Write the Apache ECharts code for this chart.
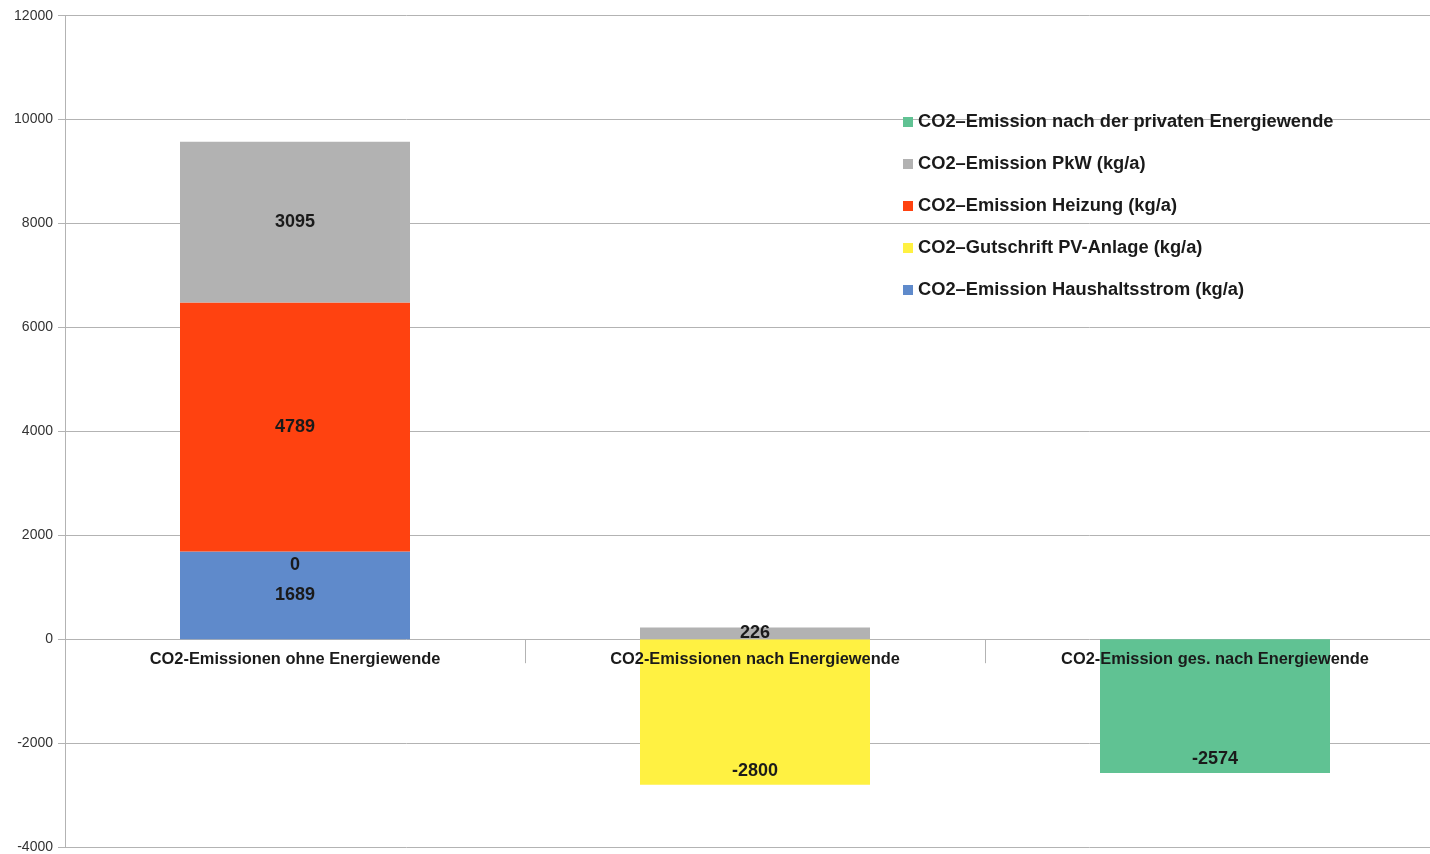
<!DOCTYPE html>
<html>
<head>
<meta charset="utf-8">
<title>CO2-Emissionen</title>
<script src="https://cdn.jsdelivr.net/npm/echarts@6/dist/echarts.min.js"></script>
<style>
  html, body { margin: 0; padding: 0; background: #ffffff; }
  #chart { width: 1430px; height: 854px; }
</style>
</head>
<body>
<div id="chart"></div>
<script>
// Categories on the x axis
const categories = [
  'CO2-Emissionen ohne Energiewende',
  'CO2-Emissionen nach Energiewende',
  'CO2-Emission ges. nach Energiewende'
];

// Series names (stacked from bottom to top)
const nameStrom   = 'CO2–Emission Haushaltsstrom (kg/a)';
const namePV      = 'CO2–Gutschrift PV-Anlage (kg/a)';
const nameHeizung = 'CO2–Emission Heizung (kg/a)';
const namePkw     = 'CO2–Emission PkW (kg/a)';
const nameGesamt  = 'CO2–Emission nach der privaten Energiewende';

// Values in kg/a per category
const stromValues   = [1689, null, null];
const pvValues      = [0, -2800, null];
const heizungValues = [4789, null, null];
const pkwValues     = [3095, 226, null];
const gesamtValues  = [null, null, -2574];

// Y axis range
const yMin = -4000;
const yMax = 12000;
const yStep = 2000;

const colors = {
  strom: '#5f8acb',
  pv: '#fff142',
  heizung: '#ff4210',
  pkw: '#b2b2b2',
  gesamt: '#60c293'
};

const FONT = '"Liberation Sans", Arial, sans-serif';
const W = 1430, H = 854;
const GRID = { left: 65, right: -15, top: 15.7, bottom: 7 };

// The category axis sits on the zero line: a second, label-only grid
// ends exactly where value 0 falls in the main grid.
const plotH = H - GRID.top - GRID.bottom;
const zeroY = GRID.top + plotH * (yMax / (yMax - yMin));

const valueLabel = {
  show: true,
  position: 'inside',
  fontFamily: FONT,
  fontSize: 18,
  fontWeight: 'bold',
  color: '#1a1a1a',
  formatter: p => String(p.value)
};

function labelled(values, positions) {
  return values.map((v, i) => {
    if (v === null) return { value: null, label: { show: false } };
    const item = { value: v };
    if (positions && positions[i]) item.label = { position: positions[i] };
    return item;
  });
}

function barSeries(name, color, values, positions) {
  return {
    name, type: 'bar', stack: 'total', barWidth: '50%',
    xAxisIndex: 0, yAxisIndex: 0,
    itemStyle: { color },
    label: valueLabel,
    data: labelled(values, positions)
  };
}

const chart = echarts.init(document.getElementById('chart'), null, { renderer: 'canvas' });

chart.setOption({
  animation: false,
  backgroundColor: '#ffffff',
  grid: [
    Object.assign({ containLabel: false, outerBoundsMode: 'none' }, GRID),
    {
      left: GRID.left, right: GRID.right, top: GRID.top, bottom: H - zeroY,
      containLabel: false, outerBoundsMode: 'none'
    }
  ],
  legend: {
    orient: 'vertical',
    left: 903,
    top: 112,
    padding: 0,
    itemWidth: 10,
    itemHeight: 10,
    itemGap: 22,
    icon: 'rect',
    selectedMode: false,
    data: [nameGesamt, namePkw, nameHeizung, namePV, nameStrom],
    textStyle: {
      fontFamily: FONT,
      fontSize: 18.3,
      fontWeight: 'bold',
      color: '#1a1a1a',
      lineHeight: 20
    }
  },
  xAxis: [
    {
      gridIndex: 0,
      type: 'category',
      data: categories,
      axisLine: { show: false },
      axisTick: { show: false },
      axisLabel: { show: false },
      splitLine: { show: false }
    },
    {
      gridIndex: 1,
      type: 'category',
      data: categories,
      position: 'bottom',
      z: 10,
      axisLine: { show: false, onZero: false },
      axisTick: { show: true, length: 24, lineStyle: { color: '#b3b3b3' } },
      axisLabel: {
        fontFamily: FONT,
        fontSize: 16.4,
        fontWeight: 'bold',
        color: '#1a1a1a',
        margin: 12,
        interval: 0
      },
      splitLine: { show: false }
    }
  ],
  yAxis: [
    {
      gridIndex: 0,
      type: 'value',
      min: yMin,
      max: yMax,
      interval: yStep,
      axisLine: { show: true, onZero: false, lineStyle: { color: '#b3b3b3' } },
      axisTick: { show: true, length: 7, lineStyle: { color: '#b3b3b3' } },
      axisLabel: {
        fontFamily: FONT,
        fontSize: 14,
        color: '#333333',
        margin: 12,
        formatter: v => String(v)
      },
      splitLine: { show: true, lineStyle: { color: '#b3b3b3', width: 1 } }
    },
    {
      gridIndex: 1,
      type: 'value',
      min: 0,
      max: 1,
      show: false
    }
  ],
  series: [
    barSeries(nameStrom, colors.strom, stromValues),
    barSeries(namePV, colors.pv, pvValues, ['insideTop', 'insideBottom', null]),
    barSeries(nameHeizung, colors.heizung, heizungValues),
    barSeries(namePkw, colors.pkw, pkwValues),
    barSeries(nameGesamt, colors.gesamt, gesamtValues, [null, null, 'insideBottom'])
  ]
});
</script>
</body>
</html>
